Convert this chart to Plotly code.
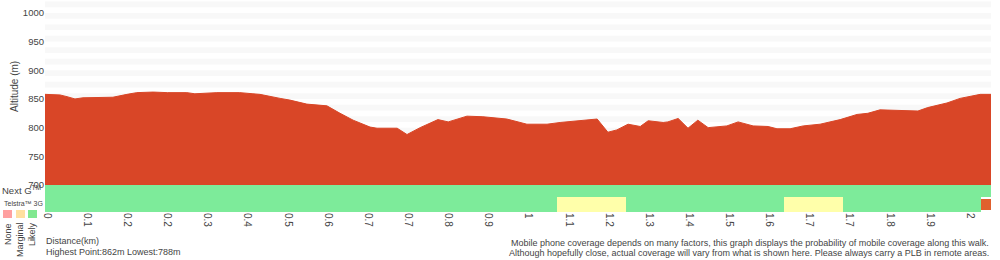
import plotly.graph_objects as go

# ---------------- data ----------------
distance_km = [0.000, 0.032, 0.047, 0.064, 0.081, 0.145, 0.175, 0.196, 0.231, 0.261,
               0.303, 0.320, 0.367, 0.416, 0.444, 0.459, 0.502, 0.523, 0.559, 0.602,
               0.630, 0.658, 0.694, 0.709, 0.752, 0.773, 0.801, 0.839, 0.861, 0.901,
               0.935, 0.986, 1.029, 1.072, 1.100, 1.179, 1.202, 1.221, 1.245, 1.271,
               1.288, 1.320, 1.330, 1.352, 1.373, 1.394, 1.416, 1.456, 1.480, 1.512,
               1.544, 1.563, 1.591, 1.619, 1.655, 1.698, 1.734, 1.757, 1.783, 1.821,
               1.864, 1.885, 1.926, 1.954, 1.982, 1.997, 2.020]
altitude_m = [858, 857, 854, 850, 852, 853, 858, 861, 862, 861,
              861, 859, 861, 861, 859, 858, 851, 848, 841, 838,
              825, 813, 801, 799, 799, 788, 800, 814, 810, 820,
              819, 815, 806, 806, 809, 815, 792, 796, 806, 802,
              812, 809, 810, 816, 799, 813, 800, 803, 810, 803,
              802, 798, 798, 803, 806, 814, 823, 825, 831, 830,
              829, 835, 843, 851, 856, 858, 858]

tick_labels = ["0", "0.1", "0.2", "0.2", "0.3", "0.4", "0.5", "0.6", "0.7", "0.7",
               "0.8", "0.9", "1", "1.1", "1.2", "1.3", "1.4", "1.5", "1.6", "1.7",
               "1.7", "1.8", "1.9", "2"]
tick_start_km = 0.0043
tick_step_km = 0.0857

# coverage segments: (start km, end km, status)
nextg_start = [0.000]
nextg_end = [2.020]
nextg_status = ["Likely"]

g3_start = [0.000, 1.093, 1.241, 1.578, 1.704, 1.999]
g3_end = [1.093, 1.241, 1.578, 1.704, 1.999, 2.020]
g3_status = ["Likely", "Marginal", "Likely", "Marginal", "Likely", "None"]

y_ticks = [700, 750, 800, 850, 900, 950, 1000]
y_range = [700, 1022.5]
x_range = [0, 2.020]

# ---------------- styles ----------------
AREA = "#d94627"
STATUS_COLOR = {"Likely": "#7deb9a", "Marginal": "#ffffaa", "None": "#e0602e"}
LEGEND_COLOR = {"None": "#ffa0a0", "Marginal": "#ffe0a0", "Likely": "#80e890"}
STRIPE = "#f8f8f8"
TXT = "#444444"
FONT = "Liberation Sans, Arial, sans-serif"

W, H = 1000, 260
ML, MR, MT, MB = 45, 9, 0, 48
PW, PH = W - ML - MR, H - MT - MB


def px(xp):
    return (xp - ML) / PW


def py(yp):
    return (H - MB - yp) / PH


fig = go.Figure()

# elevation area
fig.add_trace(go.Scatter(
    x=distance_km, y=altitude_m, mode="lines", fill="tozeroy",
    line=dict(color=AREA, width=1), fillcolor=AREA, hoverinfo="skip",
    xaxis="x", yaxis="y", showlegend=False))

# coverage rows (y2 in pixel-like units: 0..27)
ROW_3G = dict(center=7.5, width=15)
ROW_NG = dict(center=21, width=12)

for s, e, st in zip(nextg_start, nextg_end, nextg_status):
    fig.add_trace(go.Bar(
        x=[e - s], base=[s], y=[ROW_NG["center"]], width=[ROW_NG["width"]],
        orientation="h", marker=dict(color=STATUS_COLOR[st], line=dict(width=0)),
        xaxis="x", yaxis="y2", showlegend=False, hoverinfo="skip"))

for s, e, st in zip(g3_start, g3_end, g3_status):
    w = ROW_3G["width"] if st != "None" else 11
    fig.add_trace(go.Bar(
        x=[e - s], base=[s], y=[ROW_3G["center"]], width=[w],
        orientation="h", marker=dict(color=STATUS_COLOR[st], line=dict(width=0)),
        xaxis="x", yaxis="y2", showlegend=False, hoverinfo="skip"))

# background stripes (every 20 m, grey upper half)
shapes = []
v = y_range[0]
while v < y_range[1]:
    shapes.append(dict(type="rect", xref="paper", yref="y", x0=0, x1=1,
                       y0=v + 10, y1=min(v + 20, y_range[1]),
                       fillcolor=STRIPE, line=dict(width=0), layer="below"))
    v += 20

# legend swatches
for xl, name in [(3, "None"), (16, "Marginal"), (28, "Likely")]:
    shapes.append(dict(type="rect", xref="paper", yref="paper",
                       x0=px(xl), x1=px(xl + 9), y0=py(218), y1=py(210),
                       fillcolor=LEGEND_COLOR[name], line=dict(width=0)))

ann = []


def text(t, xp, yp, size, xanchor="left", yanchor="middle", angle=0):
    ann.append(dict(text=t, x=px(xp), y=py(yp), xref="paper", yref="paper",
                    showarrow=False, xanchor=xanchor, yanchor=yanchor,
                    textangle=angle, font=dict(size=size, color=TXT, family=FONT)))


text("Altitude (m)", 14, 86, 10, xanchor="center", angle=-90)
text("Next G<sup>TM</sup>", 0, 189.5, 9.5)
text("Telstra™ 3G", 2, 203, 7)
text("None", 8, 234, 9, xanchor="center", angle=-90)
text("Marginal", 20, 240, 9, xanchor="center", angle=-90)
text("Likely", 32, 234, 9, xanchor="center", angle=-90)
text("Distance(km)", 44, 241, 9)
text(f"Highest Point:{max(altitude_m)}m Lowest:{min(altitude_m)}m", 44, 252, 9)
text("Mobile phone coverage depends on many factors, this graph displays the probability of mobile coverage along this walk.",
     991, 243, 9, xanchor="right")
text("Although hopefully close, actual coverage will vary from what is shown here. Please always carry a PLB in remote areas.",
     991, 253, 9, xanchor="right")

tickvals = [tick_start_km + i * tick_step_km for i in range(len(tick_labels))]

elev_bottom = 27 / PH

fig.update_layout(
    width=W, height=H, margin=dict(l=ML, r=MR, t=MT, b=MB),
    paper_bgcolor="white", plot_bgcolor="white",
    font=dict(family=FONT, color=TXT, size=9),
    bargap=0, barmode="overlay",
    xaxis=dict(range=x_range, tickvals=tickvals, ticktext=tick_labels,
               tickangle=90, showgrid=False, zeroline=False, showline=False,
               ticks="", tickfont=dict(size=10, color=TXT), anchor="y2"),
    yaxis=dict(domain=[elev_bottom, 1], range=y_range, tickvals=y_ticks,
               showgrid=False, zeroline=False, showline=False, ticks="",
               tickfont=dict(size=9.5, color=TXT)),
    yaxis2=dict(domain=[0, elev_bottom], range=[0, 27], showticklabels=False,
                showgrid=False, zeroline=False, showline=False, ticks=""),
    shapes=shapes, annotations=ann,
)

fig.write_html("out.html")
